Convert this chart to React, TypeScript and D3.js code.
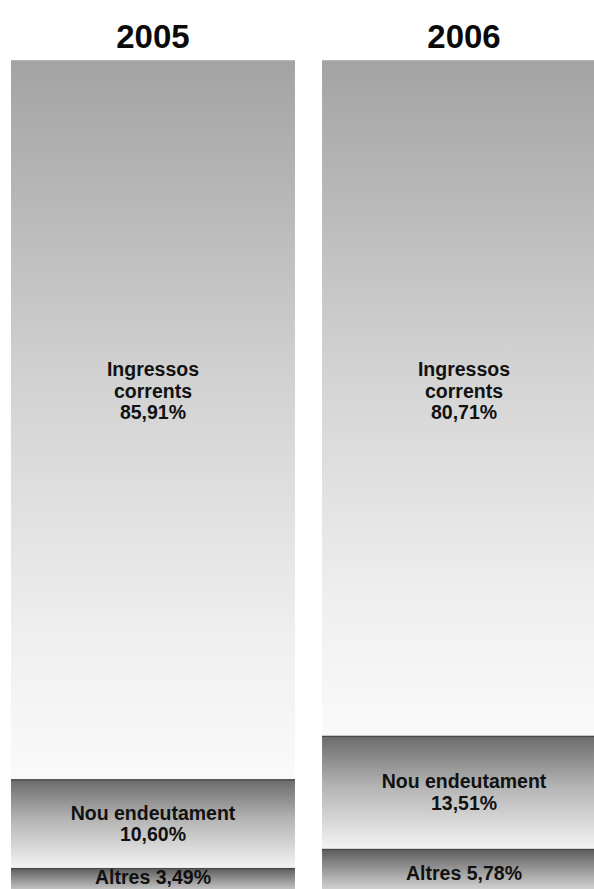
import React from "react";
import * as d3 from "d3";

const years = ["2005", "2006"];
const categories = ["Ingressos corrents", "Nou endeutament", "Altres"];
const ingressos = [85.91, 80.71];
const endeutament = [10.6, 13.51];
const altres = [3.49, 5.78];
const labelLines = [["Ingressos", "corrents"], ["Nou endeutament"], []];

const W = 594;
const H = 889;

const fmt = (v: number) => v.toFixed(2).replace(".", ",") + "%";

const gradients = [
  { id: "g0", stops: [["0%", "#a4a3a4"], ["45%", "#d2d2d2"], ["80%", "#efefef"], ["100%", "#fafafa"]] },
  { id: "g1", stops: [["0%", "#6a6a6a"], ["45%", "#b4b4b4"], ["100%", "#f3f3f3"]] },
  { id: "g2", stops: [["0%", "#5a5a5a"], ["60%", "#b0b0b0"], ["100%", "#e6e6e6"]] },
];

export default function App() {
  const x = d3.scaleBand<string>().domain(years).range([11, 606]).paddingInner(0.087).paddingOuter(0);
  const y = d3.scaleLinear().domain([0, 100]).range([897, 60]);

  const rows = years.map((yr, i) => ({ year: yr, v0: ingressos[i], v1: endeutament[i], v2: altres[i] }));
  const stack = d3.stack<any>().keys(["v2", "v1", "v0"]).order(d3.stackOrderNone)(rows);
  const keyToCat: Record<string, number> = { v0: 0, v1: 1, v2: 2 };

  const font = "'Liberation Sans', Arial, Helvetica, sans-serif";
  const fs = 19.5;
  const cap = fs * 0.716;

  return (
    <svg width={W} height={H} style={{ position: "absolute", left: 0, top: 0 }} fontFamily={font}>
      <defs>
        {gradients.map((g) => (
          <linearGradient key={g.id} id={g.id} x1="0" y1="0" x2="0" y2="1">
            {g.stops.map(([o, c]) => (
              <stop key={o} offset={o} stopColor={c} />
            ))}
          </linearGradient>
        ))}
      </defs>
      <rect width={W} height={H} fill="#ffffff" />
      {years.map((yr) => (
        <text key={yr} x={x(yr)! + x.bandwidth() / 2} y={48} textAnchor="middle" fontSize={33} fontWeight="bold" fill="#0a0a0a">
          {yr}
        </text>
      ))}
      {stack.map((layer) => {
        const ci = keyToCat[layer.key];
        return (
          <g key={layer.key}>
            {layer.map((d, i) => {
              const yr = years[i];
              const x0 = x(yr)!;
              const bw = x.bandwidth();
              const top = y(d[1]);
              const bottom = y(d[0]);
              const value = d[1] - d[0];
              const lines =
                ci === 2 ? [categories[2] + " " + fmt(value)] : [...labelLines[ci], fmt(value)];
              const lh = 21.5;
              let cy = (top + bottom) / 2;
              if (ci === 0) cy = 391;
              if (ci === 2) cy = Math.min(cy, H - 12);
              const blockH = cap + lh * (lines.length - 1);
              const firstBase = cy - blockH / 2 + cap;
              const cx = x0 + bw / 2;
              return (
                <g key={yr}>
                  <rect x={x0} y={top} width={bw} height={bottom - top} fill={`url(#g${ci})`} />
                  {ci > 0 && <rect x={x0} y={top} width={bw} height={1.5} fill="#4a4a4a" />}
                  {ci === 0 && <rect x={x0} y={top} width={bw} height={1} fill="#b8b8b8" />}
                  {lines.map((ln, k) => (
                    <text
                      key={k}
                      x={cx}
                      y={firstBase + k * lh}
                      textAnchor="middle"
                      fontSize={fs}
                      fontWeight="bold"
                      fill="#111111"
                    >
                      {ln}
                    </text>
                  ))}
                </g>
              );
            })}
          </g>
        );
      })}
    </svg>
  );
}
